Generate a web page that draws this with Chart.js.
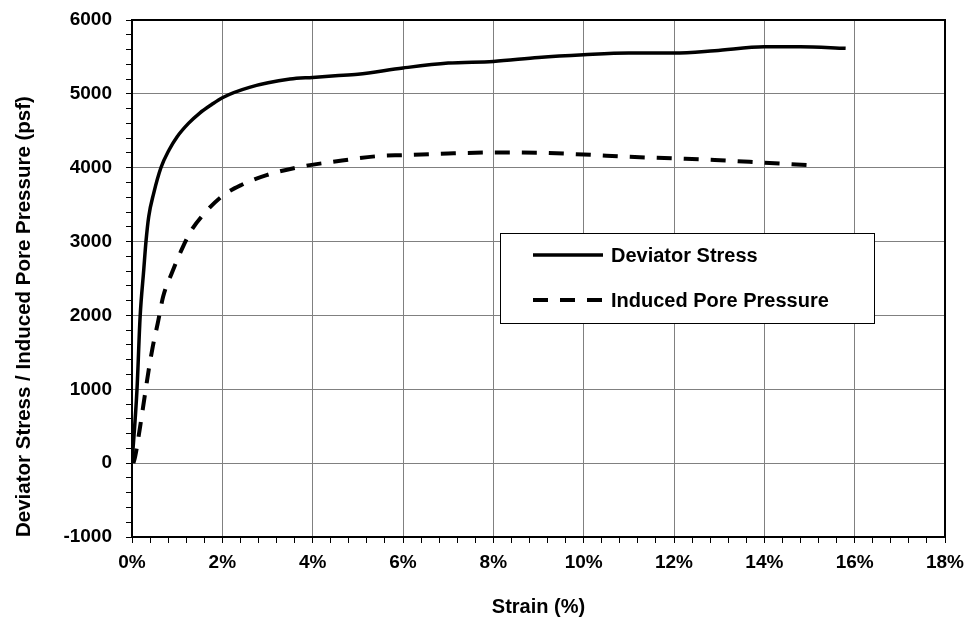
<!DOCTYPE html>
<html>
<head>
<meta charset="utf-8">
<script src="https://cdn.jsdelivr.net/npm/chart.js@4.4.1/dist/chart.umd.min.js"></script>
<style>
  body { margin: 0; background: #fff; }
  #caixa { width: 974px; height: 619px; }
</style>
</head>
<body>
<div id="caixa"><canvas id="meuGrafico" width="974" height="619"></canvas></div>
<script>
// deformacao (%) e tensao desviadora (psf)
const deformacaoDesvio = [0, 0.11, 0.18, 0.26, 0.31, 0.37, 0.48, 0.64, 0.82, 1.0, 1.25, 1.5, 1.75, 2.0, 2.6, 3.5, 4.0, 4.5, 5.0, 6.0, 7.0, 8.0, 9.0, 10.0, 11.0, 12.0, 12.9, 14.0, 14.8, 15.8];
const tensaoDesvio = [0, 992, 1984, 2616, 3004, 3337, 3653, 3999, 4240, 4420, 4600, 4740, 4850, 4948, 5088, 5200, 5223, 5245, 5265, 5350, 5417, 5439, 5493, 5529, 5552, 5552, 5583, 5637, 5638, 5616];

// deformacao (%) e poropressao induzida (psf)
const deformacaoPoro = [0.03, 0.07, 0.18, 0.28, 0.37, 0.46, 0.57, 0.69, 0.88, 1.13, 1.32, 1.54, 1.98, 2.42, 2.98, 3.74, 4.45, 5.5, 6.0, 7.0, 8.0, 9.0, 10.0, 11.0, 12.0, 12.9, 14.0, 14.95];
const poroPressao = [0, 89, 495, 901, 1263, 1578, 1894, 2255, 2571, 2931, 3157, 3337, 3608, 3766, 3900, 4014, 4080, 4160, 4170, 4193, 4206, 4202, 4179, 4148, 4126, 4105, 4068, 4035];

const nomesSeries = ["Deviator Stress", "Induced Pore Pressure"];
const tituloX = "Strain (%)";
const tituloY = "Deviator Stress / Induced Pore Pressure (psf)";

function juntar(xs, ys) {
    return xs.map((x, i) => ({ x: x, y: ys[i] }));
}

const fonte = "'Liberation Sans', Arial, sans-serif";

// moldura do grafico e legenda desenhada dentro da area
const molduraLegenda = {
    id: 'molduraLegenda',
    afterDraw(chart) {
        const ctx = chart.ctx;
        const a = chart.chartArea;
        ctx.save();
        ctx.strokeStyle = '#000';
        ctx.lineWidth = 2;
        ctx.strokeRect(a.left, a.top, a.right - a.left, a.bottom - a.top);

        // caixa da legenda
        ctx.fillStyle = '#fff';
        ctx.fillRect(500, 233, 374, 90);
        ctx.lineWidth = 1;
        ctx.strokeRect(500.5, 233.5, 374, 90);

        chart.data.datasets.forEach((ds, i) => {
            const y = 255 + i * 45;
            ctx.beginPath();
            ctx.setLineDash(ds.borderDash || []);
            ctx.lineWidth = ds.borderWidth;
            ctx.strokeStyle = ds.borderColor;
            ctx.moveTo(533, y);
            ctx.lineTo(603, y);
            ctx.stroke();
            ctx.setLineDash([]);
            ctx.fillStyle = '#000';
            ctx.font = "bold 20px " + fonte;
            ctx.textBaseline = 'middle';
            ctx.fillText(ds.label, 611, y + 1);
        });
        ctx.restore();
    }
};

var canvas = document.getElementById("meuGrafico");
var ctx = canvas.getContext("2d");

var meuGrafico = new Chart(ctx, {
    type: 'scatter',
    data: {
        datasets: [{
            label: nomesSeries[0],
            data: juntar(deformacaoDesvio, tensaoDesvio),
            showLine: true,
            borderColor: '#000',
            borderWidth: 3.5,
            pointRadius: 0,
            cubicInterpolationMode: 'monotone'
        }, {
            label: nomesSeries[1],
            data: juntar(deformacaoPoro, poroPressao),
            showLine: true,
            borderColor: '#000',
            borderWidth: 4,
            borderDash: [15, 12],
            pointRadius: 0,
            cubicInterpolationMode: 'monotone'
        }]
    },
    options: {
        responsive: false,
        animation: false,
        layout: { padding: { left: 0, right: 29, top: 20, bottom: 0 } },
        plugins: {
            legend: { display: false },
            tooltip: { enabled: false }
        },
        scales: {
            x: {
                type: 'linear',
                min: 0,
                max: 18,
                afterFit: (s) => { s.height = 82; },
                border: { color: '#000', width: 2 },
                grid: {
                    color: (c) => (c.tick && Math.abs(c.tick.value / 2 - Math.round(c.tick.value / 2)) < 1e-6) ? '#808080' : 'rgba(0,0,0,0)',
                    tickColor: '#000',
                    tickLength: 6,
                    lineWidth: 1
                },
                ticks: {
                    stepSize: 0.4,
                    autoSkip: false,
                    maxRotation: 0,
                    padding: 8,
                    color: '#000',
                    font: { family: fonte, size: 19, weight: 'bold' },
                    callback: (v) => Math.abs(v / 2 - Math.round(v / 2)) < 1e-6 ? Math.round(v) + '%' : ''
                },
                title: {
                    display: true,
                    text: tituloX,
                    color: '#000',
                    font: { family: fonte, size: 20, weight: 'bold' },
                    padding: { top: 0, bottom: 0 }
                }
            },
            y: {
                type: 'linear',
                min: -1000,
                max: 6000,
                afterFit: (s) => { s.width = 132; s.paddingTop = 0; s.paddingBottom = 0; },
                border: { color: '#000', width: 2 },
                grid: {
                    color: (c) => (c.tick && c.tick.value % 1000 === 0) ? '#808080' : 'rgba(0,0,0,0)',
                    tickColor: '#000',
                    tickLength: 6,
                    lineWidth: 1
                },
                ticks: {
                    stepSize: 200,
                    autoSkip: false,
                    padding: 14,
                    color: '#000',
                    font: { family: fonte, size: 19, weight: 'bold' },
                    callback: (v) => v % 1000 === 0 ? String(v) : ''
                },
                title: {
                    display: true,
                    text: tituloY,
                    align: 'start',
                    color: '#000',
                    font: { family: fonte, size: 20.5, weight: 'bold' },
                    padding: { top: 12, bottom: 0 }
                }
            }
        }
    },
    plugins: [molduraLegenda]
});
</script>
</body>
</html>
